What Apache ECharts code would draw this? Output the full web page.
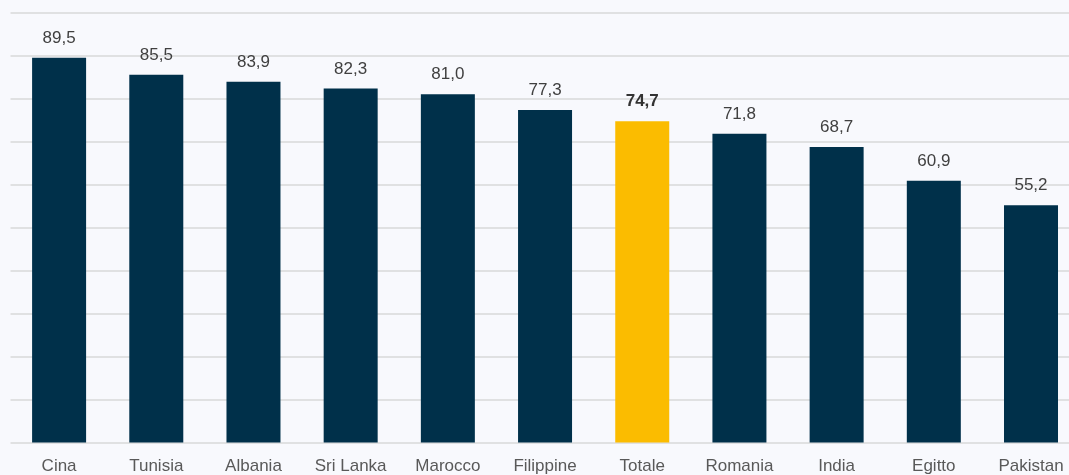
<!DOCTYPE html>
<html>
<head>
<meta charset="utf-8">
<script src="https://cdn.jsdelivr.net/npm/echarts@6/dist/echarts.min.js"></script>
<style>
  html, body { margin: 0; padding: 0; background: #f8f9fd; }
  #chart { width: 1069px; height: 475px; }
</style>
</head>
<body>
<div id="chart"></div>
<script>
// Paesi e quote (%)
const categories = ['Cina', 'Tunisia', 'Albania', 'Sri Lanka', 'Marocco', 'Filippine', 'Totale', 'Romania', 'India', 'Egitto', 'Pakistan'];
const values = [89.5, 85.5, 83.9, 82.3, 81.0, 77.3, 74.7, 71.8, 68.7, 60.9, 55.2];
const highlight = 'Totale';

const NAVY = '#00304a';
const GOLD = '#fbbc00';

const fmt = v => v.toFixed(1).replace('.', ',');

const seriesData = values.map((v, i) => {
  const isTot = categories[i] === highlight;
  return {
    value: v,
    itemStyle: { color: isTot ? GOLD : NAVY },
    label: isTot ? { fontWeight: 'bold', color: '#333333' } : {}
  };
});

const chart = echarts.init(document.getElementById('chart'), null, { renderer: 'canvas' });
chart.setOption({
  backgroundColor: '#f8f9fd',
  animation: false,
  // plot area runs past the right edge of the canvas
  grid: {
    left: 10.5, right: -10.6, top: 12.5, bottom: 32.5,
    containLabel: false,
    outerBoundsMode: 'none'
  },
  xAxis: {
    type: 'category',
    data: categories,
    boundaryGap: true,
    axisLine: { show: false },
    axisTick: { show: false },
    axisLabel: {
      interval: 0,
      margin: 15,
      fontFamily: 'Liberation Sans, Arial, sans-serif',
      fontSize: 17,
      color: '#595959'
    }
  },
  yAxis: {
    type: 'value',
    min: 0,
    max: 100,
    interval: 10,
    axisLabel: { show: false },
    axisLine: { show: false },
    axisTick: { show: false },
    splitLine: { lineStyle: { color: '#d9d9d9', width: 1.5 } }
  },
  series: [{
    type: 'bar',
    data: seriesData,
    barWidth: 54,
    label: {
      show: true,
      position: 'top',
      distance: 11,
      fontFamily: 'Liberation Sans, Arial, sans-serif',
      fontSize: 17,
      color: '#404040',
      formatter: p => fmt(p.value)
    }
  }]
});
</script>
</body>
</html>
